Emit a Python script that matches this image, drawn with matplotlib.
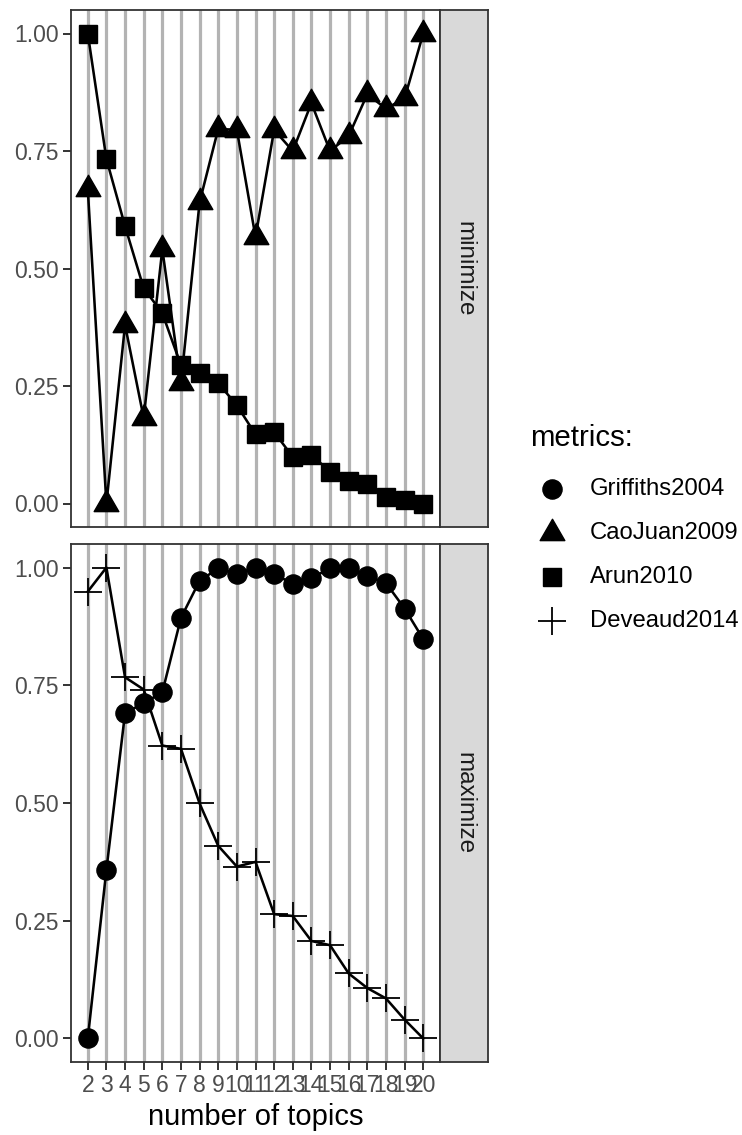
import matplotlib
matplotlib.use("Agg")
import matplotlib.pyplot as plt
from matplotlib.path import Path
from matplotlib.markers import MarkerStyle

plt.rcParams['font.family'] = ['Liberation Sans', 'DejaVu Sans']

# number of topics evaluated
topics = list(range(2, 21))

# normalised metric scores
griffiths2004 = [0.0, 0.358, 0.691, 0.712, 0.735, 0.893, 0.972, 0.998, 0.987, 1.0,
                 0.987, 0.965, 0.978, 0.998, 0.998, 0.982, 0.967, 0.913, 0.848]
caojuan2009 = [0.669, 0.0, 0.38, 0.182, 0.541, 0.256, 0.641, 0.797, 0.795, 0.567,
               0.795, 0.75, 0.852, 0.75, 0.782, 0.871, 0.84, 0.862, 1.0]
arun2010 = [1.0, 0.733, 0.59, 0.458, 0.405, 0.294, 0.278, 0.256, 0.209, 0.147,
            0.152, 0.099, 0.104, 0.067, 0.047, 0.042, 0.014, 0.007, 0.0]
deveaud2014 = [0.949, 1.0, 0.767, 0.741, 0.622, 0.615, 0.499, 0.409, 0.365, 0.375,
               0.264, 0.26, 0.207, 0.198, 0.138, 0.107, 0.085, 0.04, 0.0]

metric_names = ["Griffiths2004", "CaoJuan2009", "Arun2010", "Deveaud2014"]
metric_values = [griffiths2004, caojuan2009, arun2010, deveaud2014]
metric_panel = ["maximize", "minimize", "minimize", "maximize"]
panels = ["minimize", "maximize"]
y_ticks = [0.0, 0.25, 0.5, 0.75, 1.0]

# equilateral triangle centred on its centroid
tri = MarkerStyle(Path([(-0.5, -0.2887), (0.5, -0.2887), (0.0, 0.5774), (-0.5, -0.2887)],
                       [Path.MOVETO, Path.LINETO, Path.LINETO, Path.CLOSEPOLY]))
marker_style = {
    "Griffiths2004": dict(marker="o", ms=13.8),
    "CaoJuan2009": dict(marker=tri, ms=20.5),
    "Arun2010": dict(marker="s", ms=13.5),
    "Deveaud2014": dict(marker="+", ms=20, mew=1.3),
}

W, H = 742, 1135
fig = plt.figure(figsize=(W / 100, H / 100), dpi=100)

def fig_rect(x0, y0, x1, y1):
    return [x0 / W, 1 - y1 / H, (x1 - x0) / W, (y1 - y0) / H]

panel_boxes = {"minimize": (71, 10, 440, 527), "maximize": (71, 544, 440, 1062)}
dark = "#333333"

for pname in panels:
    x0, y0, x1, y1 = panel_boxes[pname]
    ax = fig.add_axes(fig_rect(x0, y0, x1, y1))
    for t in topics:
        ax.axvline(t, color="#B3B3B3", lw=2.3, zorder=0)
    for name, vals, pn in zip(metric_names, metric_values, metric_panel):
        if pn != pname:
            continue
        ax.plot(topics, vals, color="black", lw=1.85, zorder=2)
        ax.plot(topics, vals, ls="none", color="black", zorder=3, **marker_style[name])
    ax.set_xlim(topics[0] - 0.9, topics[-1] + 0.9)
    ax.set_ylim(-0.05, 1.05)
    ax.set_yticks(y_ticks)
    ax.set_yticklabels([f"{v:.2f}" for v in y_ticks])
    ax.set_xticks(topics)
    if pname == panels[-1]:
        ax.set_xticklabels([str(t) for t in topics])
    else:
        ax.set_xticklabels([])
        ax.tick_params(axis="x", length=0)
    ax.tick_params(axis="both", colors=dark, labelcolor="#4D4D4D", labelsize=16.5,
                   length=5.5, width=1.4, pad=3.5)
    if pname != panels[-1]:
        ax.tick_params(axis="x", length=0)
    for sp in ax.spines.values():
        sp.set_color(dark)
        sp.set_linewidth(1.3)

    # facet strip on the right
    sax = fig.add_axes(fig_rect(x1, y0, 488, y1))
    sax.set_facecolor("#D9D9D9")
    sax.set_xticks([])
    sax.set_yticks([])
    for sp in sax.spines.values():
        sp.set_color(dark)
        sp.set_linewidth(1.3)
    sax.text(0.5, 0.5, pname, rotation=270, ha="center", va="center",
             fontsize=17.5, color="#1A1A1A", transform=sax.transAxes)

fig.text(255.5 / W, 1 - 1117 / H, "number of topics", ha="center", va="center",
         fontsize=21, color="black")

# legend
lax = fig.add_axes([0, 0, 1, 1])
lax.set_xlim(0, W)
lax.set_ylim(H, 0)
lax.axis("off")
lax.text(530, 438, "metrics:", ha="left", va="center", fontsize=21.2, color="black")
for i, name in enumerate(metric_names):
    yy = 489 + 44 * i
    lax.plot([552], [yy], ls="none", color="black", **marker_style[name])
    lax.text(590, yy, name, ha="left", va="center", fontsize=17.2, color="black")

fig.savefig("out.png", dpi=100)
